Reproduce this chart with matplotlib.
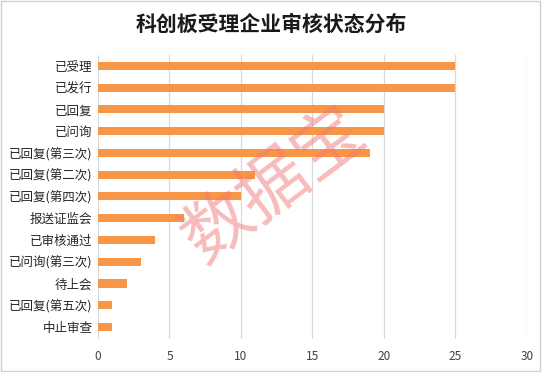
import matplotlib
matplotlib.use("Agg")
import matplotlib.pyplot as plt
from matplotlib.patches import Rectangle

plt.rcParams['font.family'] = ['Noto Sans CJK SC', 'DejaVu Sans']

categories = ["已受理", "已发行", "已回复", "已问询", "已回复(第三次)", "已回复(第二次)",
              "已回复(第四次)", "报送证监会", "已审核通过", "已问询(第三次)", "待上会",
              "已回复(第五次)", "中止审查"]
values = [25, 25, 20, 20, 19, 11, 10, 6, 4, 3, 2, 1, 1]
xticks = [0, 5, 10, 15, 20, 25, 30]

fig = plt.figure(figsize=(5.42, 3.72), dpi=100)
ax = fig.add_axes([0.1808, 0.0887, 0.7915, 0.7635])

ypos = list(range(len(categories)))
ax.barh(ypos, values, height=0.37, color="#F79646", zorder=3)
ax.set_ylim(len(categories) - 0.45, -0.5)
ax.set_xlim(0, 30)
ax.set_yticks(ypos)
ax.set_yticklabels(categories, fontsize=9, color="#262626")
ax.set_xticks(xticks)
ax.set_xticklabels([str(t) for t in xticks], fontsize=8.5, color="#404040")
ax.tick_params(length=0)
ax.tick_params(axis="x", pad=8)
ax.tick_params(axis="y", pad=4)
ax.grid(axis="x", color="#d9d9d9", linewidth=0.9, zorder=0)
for s in ax.spines.values():
    s.set_visible(False)

fig.text(0.5, 0.935, "科创板受理企业审核状态分布", ha="center", va="center",
         fontsize=15, fontweight="bold", color="#1a1a1a")

# watermark
fig.text(0.505, 0.50, "数据宝", ha="center", va="center", fontsize=50,
         rotation=37, color="#f07878", alpha=0.5, zorder=5)

fig.patches.append(Rectangle((0.002, 0.003), 0.995, 0.994, transform=fig.transFigure,
                             fill=False, edgecolor="#d0d0d0", linewidth=1))

fig.savefig("out.png", dpi=100)
